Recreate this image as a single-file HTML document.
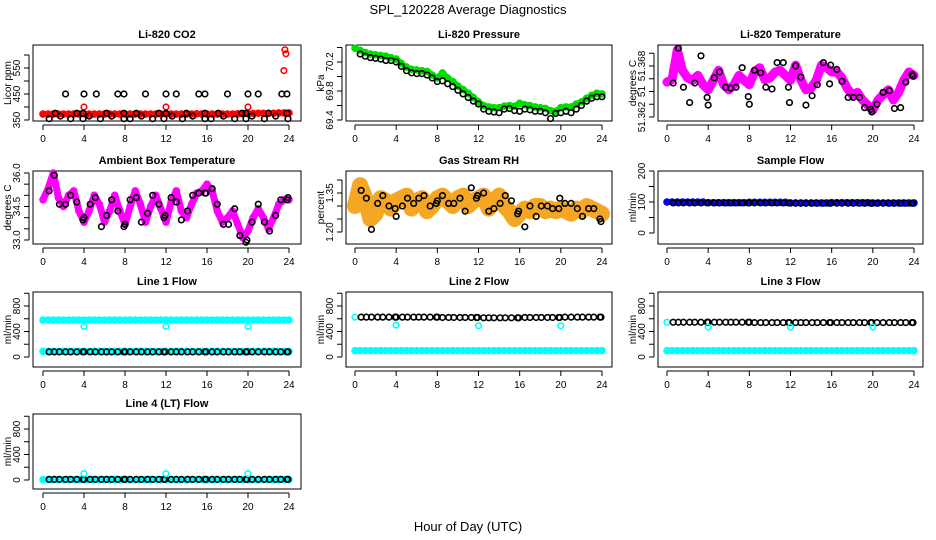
<!DOCTYPE html>
<html><head><meta charset="utf-8"><style>
html,body{margin:0;padding:0;background:#fff}
svg{display:block;font-family:"Liberation Sans",Arial,sans-serif}
</style></head><body>
<svg id="c" width="936" height="540" viewBox="0 0 936 540">
<text x="468" y="14" text-anchor="middle" font-size="13">SPL_120228  Average Diagnostics</text>
<text x="468" y="531" text-anchor="middle" font-size="13">Hour of Day (UTC)</text>
</svg>
<script>
const hours = [0,0.5,1,1.5,2,2.5,3,3.5,4,4.5,5,5.5,6,6.5,7,7.5,8,8.5,9,9.5,10,10.5,11,11.5,12,12.5,13,13.5,14,14.5,15,15.5,16,16.5,17,17.5,18,18.5,19,19.5,20,20.5,21,21.5,22,22.5,23,23.5,24];
const blackHours = [0.6,1.1,1.6,2.2,2.7,3.3,3.9,4.0,4.6,5.1,5.7,6.2,6.7,7.3,7.9,8.0,8.5,9.1,9.6,10.2,10.7,11.3,11.8,11.9,12.5,13.0,13.5,14.1,14.6,15.2,15.8,15.9,16.5,17.0,17.6,18.1,18.7,19.2,19.8,19.9,20.4,21.0,21.6,22.1,22.7,23.2,23.8,23.9];
const xTicks = [0,4,8,12,16,20,24];

// CO2
const co2Red = [373,373,373,373,373,373,373,373,374,373,373,373,373,373,373,373,373,373,373,373,373,373,373,373,374,373,373,373,373,373,374,373,373,373,373,373,373,373,374,374,375,375,376,376,376,376,377,377,377];
const co2RedOutHours = [4,12,20,23.5,23.6,23.7];
const co2RedOut = [400,400,400,540,620,605];
const co2HighHours = [2.2,4,5.2,7.3,7.9,10,12,13,15.2,15.8,18,20,21,23.3,23.8];
const co2High = [450,450,450,450,450,450,450,450,450,450,450,450,450,450,450];
const co2MidHours = [1.2,3.3,3.9,6.2,7.9,9.1,11.3,12,14,15.8,17.1,19.4,19.8,22,23.8];
const co2Mid = [376,376,376,376,376,376,376,376,376,376,376,376,376,376,376];
const co2LowHours = [0.6,1.7,2.7,3.9,4.5,5.6,6.7,7.9,8.5,9.6,10.7,11.8,12.6,13.6,14.6,15.8,16.4,17.6,18.7,19.8,20.4,21.6,22.7,23.9];
const co2Low = [355,365,355,355,365,355,365,355,355,365,355,355,365,355,365,355,355,365,355,355,365,355,365,355];

// Pressure
const presGreen = [70.39,70.36,70.33,70.31,70.30,70.29,70.28,70.26,70.24,70.18,70.13,70.10,70.09,70.08,70.07,70.02,69.98,70.05,69.98,69.93,69.87,69.82,69.77,69.71,69.65,69.60,69.58,69.57,69.57,69.59,69.60,69.59,69.63,69.61,69.60,69.58,69.57,69.56,69.53,69.52,69.57,69.58,69.58,69.62,69.65,69.70,69.74,69.77,69.76];
const presBlack = [70.31,70.28,70.26,70.25,70.24,70.22,70.22,70.20,70.14,70.08,70.05,70.04,70.04,70.02,69.98,69.93,69.94,69.90,69.86,69.81,69.76,69.71,69.66,69.62,69.55,69.52,69.51,69.50,69.55,69.56,69.53,69.52,69.55,69.54,69.52,69.52,69.50,69.42,69.49,69.50,69.52,69.50,69.55,69.60,69.66,69.70,69.72,69.72];

// Li-820 temperature
const ltMagenta = [51.3661,51.3664,51.3699,51.3675,51.3666,51.3663,51.3669,51.3658,51.3652,51.3663,51.3675,51.3658,51.3652,51.3658,51.3669,51.3663,51.3658,51.3673,51.3678,51.3664,51.3666,51.3673,51.3675,51.3669,51.3663,51.3681,51.3664,51.3652,51.3654,51.3663,51.3681,51.3678,51.3673,51.3673,51.3666,51.3654,51.3646,51.3649,51.3640,51.3634,51.3628,51.3640,51.3646,51.3652,51.3640,51.3649,51.3663,51.3673,51.3669];
const ltBlack = [51.3660,51.3701,51.3655,51.3637,51.3660,51.3692,51.3643,51.3634,51.3666,51.3673,51.3655,51.3654,51.3655,51.3678,51.3644,51.3635,51.3675,51.3672,51.3655,51.3653,51.3684,51.3684,51.3655,51.3637,51.3680,51.3667,51.3634,51.3645,51.3658,51.3684,51.3659,51.3681,51.3676,51.3662,51.3643,51.3643,51.3643,51.3631,51.3629,51.3626,51.3635,51.3649,51.3651,51.3630,51.3631,51.3661,51.3670,51.3668];

// Ambient box temperature
const ambMagenta = [34.8,35.3,36.0,34.9,34.5,35.0,35.2,34.3,33.8,34.3,35.0,34.6,33.8,34.3,35.0,34.3,33.7,34.5,35.2,34.6,33.8,34.5,35.0,34.4,33.8,34.7,35.2,34.3,34.0,34.6,35.1,35.2,35.5,35.2,34.3,33.8,34.0,34.3,33.7,33.1,33.4,34.0,34.4,34.0,33.5,34.0,34.6,34.8,34.8];
const ambBlack = [35.2,35.9,34.6,34.6,35.0,34.7,33.9,34.0,34.6,34.9,33.6,34.1,34.8,34.3,33.6,33.7,34.8,34.9,33.8,34.2,35.0,34.6,34.0,34.1,34.9,34.7,33.9,34.3,35.0,35.1,35.1,35.1,35.3,34.6,33.7,33.7,34.4,33.2,32.9,33.0,33.8,34.6,33.8,33.4,34.1,34.8,34.8,34.9];

// Gas stream RH
const rhOrange = [1.30,1.38,1.33,1.25,1.27,1.33,1.32,1.29,1.32,1.33,1.34,1.29,1.32,1.33,1.28,1.30,1.33,1.34,1.32,1.30,1.33,1.34,1.30,1.32,1.33,1.34,1.29,1.32,1.34,1.30,1.28,1.25,1.27,1.29,1.28,1.30,1.30,1.28,1.29,1.28,1.29,1.28,1.27,1.29,1.28,1.30,1.29,1.28,1.27];
const rhBlack = [1.36,1.33,1.21,1.31,1.34,1.30,1.29,1.26,1.30,1.33,1.31,1.33,1.34,1.30,1.31,1.32,1.34,1.31,1.31,1.33,1.28,1.37,1.33,1.34,1.35,1.28,1.29,1.31,1.34,1.32,1.27,1.28,1.22,1.30,1.26,1.30,1.30,1.29,1.29,1.33,1.31,1.31,1.29,1.26,1.29,1.29,1.25,1.24];

// Flows (constant-ish levels)
const sampleBlue = [100,100,100,100,100,100,100,100,98,98,98,98,98,98,98,98,99,99,99,99,99,99,99,99,97,97,97,97,97,97,97,97,98,98,98,98,98,98,98,98,97,97,97,97,97,97,97,97,97];
const sampleBlack = [97,97,97,97,97,97,97,97,97,97,97,97,97,97,97,97,97,97,97,97,97,97,97,97,96,96,96,96,96,96,96,96,96,96,96,96,96,96,96,96,96,96,96,96,96,96,96,96];
const outHours = [4,12,20];
const l1CyanHigh = [580,580,580,580,580,580,580,580,580,580,580,580,580,580,580,580,580,580,580,580,580,580,580,580,580,580,580,580,580,580,580,580,580,580,580,580,580,580,580,580,580,580,580,580,580,580,580,580,580];
const l1CyanLow = [90,90,90,90,90,90,90,90,90,90,90,90,90,90,90,90,90,90,90,90,90,90,90,90,90,90,90,90,90,90,90,90,90,90,90,90,90,90,90,90,90,90,90,90,90,90,90,90,90];
const l1Black = [80,80,80,80,80,80,80,80,80,80,80,80,80,80,80,80,80,80,80,80,80,80,80,80,80,80,80,80,80,80,80,80,80,80,80,80,80,80,80,80,80,80,80,80,80,80,80,80];
const l1Out = [480,480,480];
const l2CyanLow = [100,100,100,100,100,100,100,100,100,100,100,100,100,100,100,100,100,100,100,100,100,100,100,100,100,100,100,100,100,100,100,100,100,100,100,100,100,100,100,100,100,100,100,100,100,100,100,100,100];
const l2Black = [625,625,625,625,625,625,625,625,625,625,625,625,625,625,625,625,620,620,620,620,620,620,620,620,615,615,615,615,615,615,615,615,620,620,620,620,620,620,620,620,625,625,625,625,625,625,625,625];
const l2Out = [500,490,490];
const l3CyanLow = [100,100,100,100,100,100,100,100,100,100,100,100,100,100,100,100,100,100,100,100,100,100,100,100,100,100,100,100,100,100,100,100,100,100,100,100,100,100,100,100,100,100,100,100,100,100,100,100,100];
const l3Black = [545,545,545,545,545,545,545,545,545,545,545,545,545,545,545,545,540,540,540,540,540,540,540,540,540,540,540,540,540,540,540,540,540,540,540,540,540,540,540,540,540,540,540,540,540,540,540,540];
const l3Out = [470,470,470];
const l4Cyan = [5,5,5,5,5,5,5,5,5,5,5,5,5,5,5,5,5,5,5,5,5,5,5,5,5,5,5,5,5,5,5,5,5,5,5,5,5,5,5,5,5,5,5,5,5,5,5,5,5];
const l4Black = [10,10,10,10,10,10,10,10,10,10,10,10,10,10,10,10,10,10,10,10,10,10,10,10,10,10,10,10,10,10,10,10,10,10,10,10,10,10,10,10,10,10,10,10,10,10,10,10];
const l4Out = [100,100,100];

const svg = document.getElementById('c');
const NS = 'http://www.w3.org/2000/svg';
function mk(tag, attrs, parent){const e=document.createElementNS(NS,tag);for(const k in attrs)e.setAttribute(k,attrs[k]);(parent||svg).appendChild(e);return e;}

const cols = [{l:33,r:301,h0:43,h1:289},{l:346,r:612,h0:355,h1:602},{l:658,r:923,h0:667,h1:914}];
const rows = [{t:45,b:121},{t:171,b:244},{t:292,b:367},{t:414,b:489}];

function panel(name,title,ylab,col,row,v1,p1,v2,p2,ticks,labels,labelText){
  const C=cols[col],R=rows[row];
  const g=mk('g',{});
  
  
  const sx=h=>C.h0+(C.h1-C.h0)*h/24;
  const sy=v=>p1+(v-v1)*(p2-p1)/(v2-v1);
  const box=mk('rect',{x:C.l,y:R.t,width:C.r-C.l,height:R.b-R.t,fill:'none',stroke:'#000','stroke-width':1},g);
  
  
  const t=mk('text',{x:(C.l+C.r)/2,y:R.t-7,'text-anchor':'middle','font-size':11,'font-weight':'bold'},g);
  t.textContent=title;
  
  
  // x axis
  const ay=R.b+4;
  const xa=mk('g',{},g);
  
  
  mk('line',{x1:sx(0),x2:sx(24),y1:ay,y2:ay,stroke:'#000'},xa);
  xTicks.forEach(h=>{
    mk('line',{x1:sx(h),x2:sx(h),y1:ay,y2:ay+5,stroke:'#000'},xa);
    const l=mk('text',{x:sx(h),y:ay+17,'text-anchor':'middle','font-size':10},xa);l.textContent=h;
    
    
  });
  // y axis
  const ax=C.l-4;
  const ya=mk('g',{},g);
  
  
  mk('line',{x1:ax,x2:ax,y1:sy(ticks[0]),y2:sy(ticks[ticks.length-1]),stroke:'#000'},ya);
  ticks.forEach(v=>mk('line',{x1:ax-5,x2:ax,y1:sy(v),y2:sy(v),stroke:'#000'},ya));
  labels.forEach((v,i)=>{
    const y=sy(v),x=ax-9;
    const l=mk('text',{x:x,y:y,'text-anchor':'middle','font-size':10,transform:`rotate(-90 ${x} ${y})`},ya);
    l.textContent=labelText[i];
    
    
  });
  const yl=mk('text',{x:C.l-22,y:(R.t+R.b)/2,'text-anchor':'middle','font-size':10,transform:`rotate(-90 ${C.l-22} ${(R.t+R.b)/2})`},g);
  yl.textContent=ylab;
  
  
  const plot=mk('g',{},g);
  return {sx,sy,plot};
}
function band(P,xs,vals,color,w,name){
  const d=vals.map((v,i)=>(i?'L':'M')+P.sx(xs[i]).toFixed(1)+' '+P.sy(v).toFixed(1)).join(' ');
  const p=mk('path',{d:d,fill:'none',stroke:color,'stroke-width':w,'stroke-linejoin':'round','stroke-linecap':'round'},P.plot);
  
  
  vals.forEach((v,i)=>{mk('circle',{cx:P.sx(xs[i]),cy:P.sy(v),r:3,fill:'none',stroke:color,'stroke-width':1.6},P.plot);});
}
function pts(P,xs,vals,color,name){
  vals.forEach((v,i)=>{
    const c=mk('circle',{cx:P.sx(xs[i]),cy:P.sy(v),r:2.8,fill:'none',stroke:color,'stroke-width':1.6},P.plot);
    
    
  });
}

let P;
P=panel('co2','Li-820 CO2','Licor ppm',0,0,350,120,550,68,[350,400,450,500,550,600],[350,450,550],['350','450','550']);
band(P,hours,co2Red,'#ff0000',5,'co2-red-series');
pts(P,co2RedOutHours,co2RedOut,'#ff0000','co2-red-point');
pts(P,co2HighHours,co2High,'#000','co2-black-point');
pts(P,co2MidHours,co2Mid,'#000','co2-black-point');
pts(P,co2LowHours,co2Low,'#000','co2-black-point');

P=panel('pressure','Li-820 Pressure','kPa',1,0,69.4,120,70.2,62,[69.4,69.6,69.8,70.0,70.2,70.4],[69.4,69.8,70.2],['69.4','69.8','70.2']);
band(P,hours,presGreen,'#00dd00',6,'pressure-green-series');
pts(P,hours.slice(1),presBlack,'#000','pressure-black-point');

P=panel('li820-temp','Li-820 Temperature','degrees C',2,0,51.362,117,51.368,66,[51.362,51.3635,51.365,51.3665,51.368,51.3695],[51.362,51.365,51.368],['51.362','51','51.368']);
band(P,hours,ltMagenta,'#ff00ff',9,'li820-temp-magenta-series');
pts(P,blackHours,ltBlack,'#000','li820-temp-black-point');

P=panel('ambient','Ambient Box Temperature','degrees C',0,1,33.0,240,36.0,173,[33,33.5,34,34.5,35,35.5,36],[33,34.5,36],['33.0','34.5','36.0']);
band(P,hours,ambMagenta,'#ff00ff',7,'ambient-magenta-series');
pts(P,blackHours,ambBlack,'#000','ambient-black-point');

P=panel('rh','Gas Stream RH','percent',1,1,1.20,232,1.35,193,[1.20,1.25,1.30,1.35,1.40],[1.20,1.35],['1.20','1.35']);
band(P,hours,rhOrange,'#f5a623',16,'rh-orange-series');
pts(P,blackHours,rhBlack,'#000','rh-black-point');

P=panel('sample-flow','Sample Flow','ml/min',2,1,0,233,200,171,[0,50,100,150,200],[0,100,200],['0','100','200']);
band(P,hours,sampleBlue,'#0000ff',5,'sample-flow-blue-series');
pts(P,blackHours,sampleBlack,'#000','sample-flow-black-point');

const flowTicks=[0,200,400,600,800,1000],flowLab=[0,400,800],flowTxt=['0','400','800'];
P=panel('line1-flow','Line 1 Flow','ml/min',0,2,0,357,800,306,flowTicks,flowLab,flowTxt);
band(P,hours,l1CyanHigh,'#00ffff',6,'line1-cyan-high-series');
band(P,hours,l1CyanLow,'#00ffff',6,'line1-cyan-low-series');
pts(P,blackHours,l1Black,'#000','line1-black-point');
pts(P,outHours,l1Out,'#00ffff','line1-outlier');

P=panel('line2-flow','Line 2 Flow','ml/min',1,2,0,357,800,306,flowTicks,flowLab,flowTxt);
band(P,hours,l2CyanLow,'#00ffff',6,'line2-cyan-low-series');
pts(P,[0],[625],'#00ffff','line2-cyan-point');
pts(P,blackHours,l2Black,'#000','line2-black-point');
pts(P,outHours,l2Out,'#00ffff','line2-outlier');

P=panel('line3-flow','Line 3 Flow','ml/min',2,2,0,357,800,306,flowTicks,flowLab,flowTxt);
band(P,hours,l3CyanLow,'#00ffff',6,'line3-cyan-low-series');
pts(P,[0],[545],'#00ffff','line3-cyan-point');
pts(P,blackHours,l3Black,'#000','line3-black-point');
pts(P,outHours,l3Out,'#00ffff','line3-outlier');

P=panel('line4-flow','Line 4 (LT) Flow','ml/min',0,3,0,480,800,429,flowTicks,flowLab,flowTxt);
band(P,hours,l4Cyan,'#00ffff',6,'line4-cyan-series');
pts(P,blackHours,l4Black,'#000','line4-black-point');
pts(P,outHours,l4Out,'#00ffff','line4-outlier');
</script>
</body></html>
